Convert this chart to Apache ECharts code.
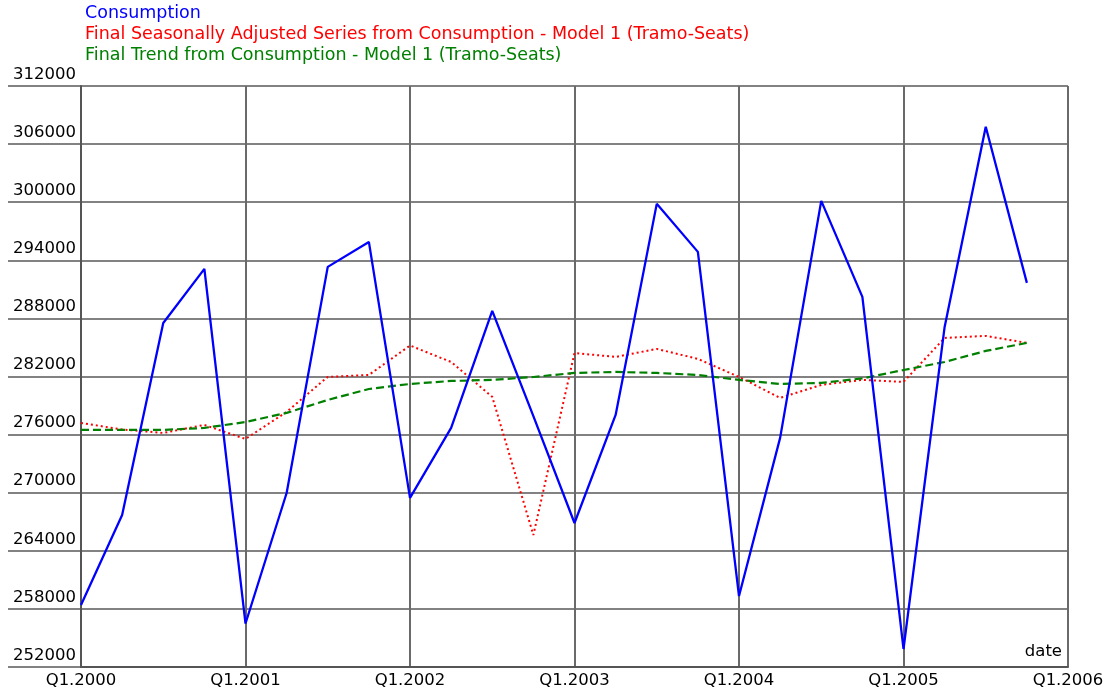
<!DOCTYPE html>
<html>
<head>
<meta charset="utf-8">
<script src="https://cdn.jsdelivr.net/npm/echarts@6/dist/echarts.min.js"></script>
<style>
  html, body { margin: 0; padding: 0; background: #fff; }
  #chart { width: 1116px; height: 693px; }
</style>
</head>
<body>
<div id="chart"></div>
<script>
// Quarterly consumption, Q1.2000 .. Q4.2005
const quarters = [
  'Q1.2000','Q2.2000','Q3.2000','Q4.2000',
  'Q1.2001','Q2.2001','Q3.2001','Q4.2001',
  'Q1.2002','Q2.2002','Q3.2002','Q4.2002',
  'Q1.2003','Q2.2003','Q3.2003','Q4.2003',
  'Q1.2004','Q2.2004','Q3.2004','Q4.2004',
  'Q1.2005','Q2.2005','Q3.2005','Q4.2005'
];
const consumption = [
  258400, 267700, 287530, 293110,
  256490, 269970, 293320, 295900,
  269460, 276690, 288770, 277900,
  266870, 278030, 299830, 294870,
  259330, 275660, 300140, 290220,
  253860, 287120, 307790, 291670
];
const seasonallyAdjusted = [
  277200, 276530, 276170, 277000,
  275550, 278340, 281960, 282160,
  285200, 283500, 279900, 265630,
  284430, 284020, 284850, 283820,
  281960, 279790, 281130, 281650,
  281440, 285980, 286190, 285470
];
const trend = [
  276480, 276480, 276480, 276690,
  277300, 278240, 279580, 280710,
  281230, 281540, 281650, 281950,
  282370, 282470, 282370, 282160,
  281650, 281230, 281340, 281800,
  282670, 283500, 284640, 285470
];
const yearTicks = ['Q1.2000','Q1.2001','Q1.2002','Q1.2003','Q1.2004','Q1.2005','Q1.2006'];

const seriesNames = [
  'Consumption',
  'Final Seasonally Adjusted Series from Consumption - Model 1 (Tramo-Seats)',
  'Final Trend from Consumption - Model 1 (Tramo-Seats)'
];
const seriesColors = ['#0000ff', '#ff0000', '#008000'];

const FONT = 'DejaVu Sans';
const toPairs = arr => arr.map((v, i) => [i, v]);

const yCommon = {
  type: 'value', min: 252000, max: 312000, interval: 6000
};

const chart = echarts.init(document.getElementById('chart'), null, { renderer: 'canvas' });
chart.setOption({
  animation: false,
  backgroundColor: '#ffffff',
  textStyle: { fontFamily: FONT },
  legend: {
    orient: 'vertical',
    left: 80, top: 3,
    padding: 0,
    icon: 'none',
    itemWidth: 0, itemHeight: 10,
    itemGap: 0.5,
    selectedMode: false,
    textStyle: { fontFamily: FONT, fontSize: 17.5, lineHeight: 20.5 },
    data: seriesNames.map((n, i) => ({ name: n, textStyle: { color: seriesColors[i] } }))
  },
  grid: [
    { left: 81, right: 48, top: 86, bottom: 26, containLabel: false },
    { left: 8, width: 73, top: 86, bottom: 26, containLabel: false }
  ],
  xAxis: [
    {
      type: 'value', gridIndex: 0,
      min: 0, max: 24, interval: 4,
      name: 'date',
      nameLocation: 'end',
      nameGap: -6,
      nameTextStyle: {
        fontFamily: FONT, fontSize: 16.5, color: '#000',
        align: 'right', verticalAlign: 'bottom', padding: [0, 0, 7, 0]
      },
      axisLine: { show: true, lineStyle: { color: '#555', width: 2 } },
      axisTick: { show: false },
      axisLabel: {
        color: '#000', fontFamily: FONT, fontSize: 16.5, margin: 5,
        formatter: v => yearTicks[v / 4]
      },
      splitLine: { show: true, lineStyle: { color: '#6a6a6a', width: 2 } }
    },
    {
      type: 'value', gridIndex: 1, min: 0, max: 1,
      show: false
    }
  ],
  yAxis: [
    Object.assign({}, yCommon, {
      gridIndex: 0,
      axisLine: { show: true, lineStyle: { color: '#555', width: 2 } },
      axisTick: { show: false },
      axisLabel: {
        color: '#000', fontFamily: FONT, fontSize: 16.5,
        margin: 5, verticalAlign: 'bottom', padding: [0, 0, 3, 0],
        formatter: v => String(v)
      },
      splitLine: { show: true, lineStyle: { color: '#828282', width: 2 } }
    }),
    Object.assign({}, yCommon, {
      gridIndex: 1,
      axisLine: { show: false },
      axisTick: { show: false },
      axisLabel: { show: false },
      splitLine: { show: true, lineStyle: { color: '#828282', width: 2 } }
    })
  ],
  series: [
    {
      name: seriesNames[0], type: 'line', xAxisIndex: 0, yAxisIndex: 0,
      data: toPairs(consumption), showSymbol: false, symbol: 'none',
      lineStyle: { color: seriesColors[0], width: 2.3 },
      itemStyle: { color: seriesColors[0] }, z: 4
    },
    {
      name: seriesNames[1], type: 'line', xAxisIndex: 0, yAxisIndex: 0,
      data: toPairs(seasonallyAdjusted), showSymbol: false, symbol: 'none',
      lineStyle: { color: seriesColors[1], width: 2, type: [2, 3] },
      itemStyle: { color: seriesColors[1] }, z: 3
    },
    {
      name: seriesNames[2], type: 'line', xAxisIndex: 0, yAxisIndex: 0,
      data: toPairs(trend), showSymbol: false, symbol: 'none',
      lineStyle: { color: seriesColors[2], width: 2.2, type: [8, 4] },
      itemStyle: { color: seriesColors[2] }, z: 3
    }
  ]
});
</script>
</body>
</html>
